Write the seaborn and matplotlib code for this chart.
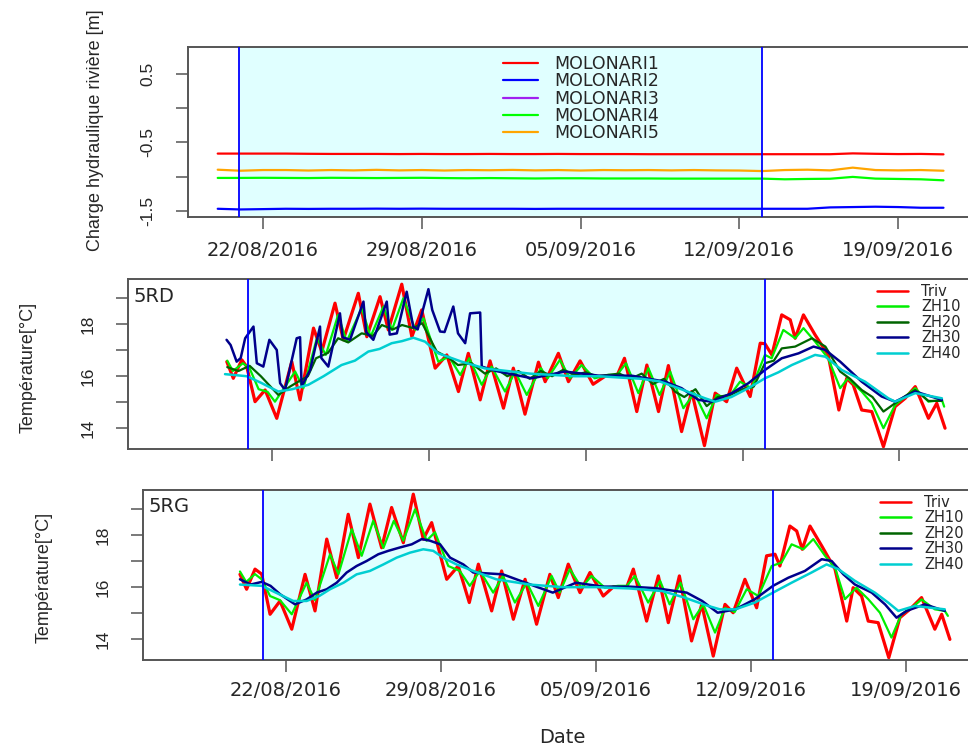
import numpy as np
import pandas as pd
import matplotlib
matplotlib.use("Agg")
import matplotlib.pyplot as plt
import matplotlib.dates as mdates
from matplotlib.lines import Line2D
import seaborn as sns

# ---- donnees (jours depuis le 22/08/2016 00:00) ----
T0 = pd.Timestamp("2016-08-22")

# charge hydraulique riviere, une valeur par jour du 20/08 au 21/09
top_days = list(range(-2, 31))
m1_vals = [-0.665, -0.665, -0.665, -0.665, -0.668, -0.670, -0.670, -0.670, -0.672, -0.670, -0.672,
           -0.672, -0.670, -0.672, -0.672, -0.670, -0.672, -0.672, -0.672, -0.674, -0.674, -0.674,
           -0.674, -0.674, -0.674, -0.674, -0.674, -0.674, -0.662, -0.668, -0.672, -0.670, -0.676]
m2_vals = [-1.470, -1.480, -1.475, -1.470, -1.472, -1.470, -1.470, -1.468, -1.470, -1.468, -1.470,
           -1.470, -1.470, -1.470, -1.472, -1.470, -1.470, -1.470, -1.470, -1.470, -1.470, -1.470,
           -1.470, -1.470, -1.470, -1.470, -1.470, -1.450, -1.445, -1.440, -1.445, -1.455, -1.455]
m3_vals = [np.nan] * 33  # MOLONARI3 : pas de donnees visibles
m4_vals = [-1.020, -1.020, -1.018, -1.020, -1.022, -1.018, -1.020, -1.022, -1.020, -1.018, -1.022,
           -1.025, -1.022, -1.025, -1.028, -1.025, -1.025, -1.028, -1.028, -1.028, -1.030, -1.030,
           -1.030, -1.030, -1.030, -1.040, -1.035, -1.032, -1.005, -1.030, -1.035, -1.040, -1.055]
m5_vals = [-0.900, -0.915, -0.905, -0.905, -0.912, -0.905, -0.910, -0.902, -0.910, -0.905, -0.912,
           -0.905, -0.908, -0.903, -0.910, -0.905, -0.912, -0.905, -0.908, -0.905, -0.910, -0.905,
           -0.910, -0.912, -0.920, -0.905, -0.900, -0.910, -0.870, -0.905, -0.910, -0.905, -0.915]
top_names = ["MOLONARI1", "MOLONARI2", "MOLONARI3", "MOLONARI4", "MOLONARI5"]
top_colors = ["#FF0000", "#0000FF", "#A020F0", "#00FF00", "#FFA500"]

# 5RD
rd_triv_t = [-2.02, -1.73, -1.35, -1.13, -0.76, -0.31, 0.21, 0.88, 1.25, 1.85, 2.22, 2.81, 3.18, 3.85,
             4.23, 4.82, 5.19, 5.79, 6.24, 6.68, 7.28, 7.80, 8.32, 8.76, 9.29, 9.73, 10.33, 10.77,
             11.29, 11.89, 12.19, 12.78, 13.23, 13.75, 14.33, 14.9, 15.4, 15.73, 16.28, 16.73, 17.25,
             17.69, 18.28, 18.73, 19.30, 19.78, 20.29, 20.74, 21.34, 21.79, 22.0, 22.31, 22.75, 23.13,
             23.35, 23.72, 24.24, 24.82, 25.30, 25.65, 25.94, 26.32, 26.77, 27.29, 27.81, 28.26,
             28.71, 29.30, 29.67, 30.04]
rd_triv_v = [16.56, 15.92, 16.63, 16.37, 15.02, 15.47, 14.38, 16.56, 15.09, 17.85, 16.95, 18.81, 17.40,
             19.19, 17.52, 19.06, 17.78, 19.54, 17.52, 18.55, 16.31, 16.82, 15.41, 16.88, 15.09, 16.59,
             14.77, 16.31, 14.54, 16.54, 15.79, 16.88, 15.79, 16.59, 15.69, 16.02, 16.02, 16.69, 14.64,
             16.43, 14.64, 16.41, 13.87, 15.41, 13.33, 15.35, 15.02, 16.31, 15.22, 17.27, 17.25, 16.82,
             18.36, 18.17, 17.46, 18.36, 17.59, 16.82, 14.70, 15.92, 15.67, 14.70, 14.64, 13.29, 14.83,
             15.15, 15.6, 14.38, 14.96, 14.0]
rd_zh10_t = [-2.0, -1.75, -1.3, -1.0, -0.6, -0.2, 0.13, 1.03, 1.4, 2.0, 2.4, 2.95, 3.33, 4.0, 4.4,
             4.97, 5.35, 5.86, 6.4, 6.76, 7.42, 7.9, 8.4, 8.8, 9.36, 9.8, 10.4, 10.85, 11.37, 12.0,
             12.3, 12.85, 13.3, 13.82, 14.4, 15.0, 15.4, 15.8, 16.35, 16.8, 17.3, 17.77, 18.36, 18.85,
             19.4, 19.85, 20.35, 20.89, 21.4, 22.0, 22.3, 22.82, 23.35, 23.72, 24.24, 24.82, 25.36,
             25.7, 26.32, 26.77, 27.29, 27.81, 28.26, 28.71, 29.3, 29.9, 30.0]
rd_zh10_v = [16.6, 16.2, 16.5, 16.3, 15.5, 15.4, 15.02, 16.18, 15.54, 17.46, 16.82, 18.36, 17.33, 18.62,
             17.52, 18.68, 17.78, 19.0, 17.78, 18.23, 16.56, 16.75, 16.05, 16.69, 15.67, 16.37, 15.41,
             16.18, 15.28, 16.31, 15.92, 16.63, 15.92, 16.43, 15.92, 16.05, 16.05, 16.5, 15.35, 16.31,
             15.28, 16.18, 14.77, 15.35, 14.38, 15.28, 15.15, 15.79, 15.54, 16.82, 16.69, 17.78, 17.46,
             17.85, 17.33, 16.69, 15.54, 15.92, 15.41, 14.96, 14.0, 14.89, 15.22, 15.54, 15.02, 15.09,
             14.83]
rd_zh20_t = [-2.0, -1.5, -1.0, -0.5, 0.28, 0.8, 1.17, 1.6, 1.96, 2.5, 2.95, 3.4, 4.0, 4.5, 4.9, 5.4,
             5.8, 6.3, 6.7, 7.35, 7.9, 8.3, 8.9, 9.5, 10.0, 10.5, 11.0, 11.5, 12.0, 12.5, 13.0, 13.5,
             14.0, 14.5, 15.0, 15.5, 16.0, 16.5, 17.0, 17.5, 18.0, 18.4, 18.9, 19.4, 19.9, 20.5, 21.0,
             21.5, 22.0, 22.4, 22.75, 23.35, 24.1, 24.7, 25.36, 25.8, 26.32, 26.8, 27.29, 27.81, 28.2,
             28.71, 29.3, 29.9]
rd_zh20_v = [16.35, 16.2, 16.4, 16.0, 15.28, 15.6, 15.79, 16.0, 16.69, 16.9, 17.46, 17.3, 17.65, 17.55,
             17.97, 17.8, 17.97, 17.85, 18.04, 16.95, 16.7, 16.43, 16.5, 16.1, 16.3, 16.0, 16.2, 15.9,
             16.2, 16.0, 16.25, 16.05, 16.15, 16.0, 16.05, 16.1, 15.9, 16.1, 15.7, 15.9, 15.4, 15.2,
             15.5, 14.85, 15.2, 15.3, 15.5, 15.6, 16.5, 16.6, 17.07, 17.14, 17.46, 17.14, 16.18, 15.9,
             15.47, 15.2, 14.64, 14.96, 15.2, 15.47, 15.05, 15.05]
rd_zh30_t = [-2.03, -1.85, -1.58, -1.4, -1.2, -0.83, -0.68, -0.39, -0.12, 0.21, 0.36, 0.58, 1.10, 1.25,
             1.32, 1.7, 2.14, 2.2, 2.51, 3.03, 3.15, 3.48, 4.08, 4.2, 4.52, 5.12, 5.25, 5.57, 6.01, 6.3,
             6.5, 6.98, 7.15, 7.5, 7.7, 8.09, 8.3, 8.62, 8.84, 9.29, 9.36, 10.0, 11.6, 13.07, 14.6,
             16.06, 17.54, 18.28, 19.03, 19.63, 20.52, 21.26, 22.0, 22.75, 23.5, 24.17, 24.7, 25.36,
             26.32, 27.21, 27.81, 28.71, 29.9]
rd_zh30_v = [17.4, 17.2, 16.56, 16.7, 17.46, 17.91, 16.5, 16.37, 17.4, 17.01, 15.73, 15.47, 17.46, 17.5,
             15.6, 16.24, 17.91, 16.7, 16.37, 18.42, 17.5, 17.4, 18.87, 17.7, 17.4, 18.87, 17.6, 17.65,
             19.25, 17.91, 17.8, 19.35, 18.55, 17.72, 17.7, 18.68, 17.65, 17.27, 18.42, 18.45, 16.37,
             16.2, 15.92, 16.18, 16.02, 16.02, 15.79, 15.54, 15.09, 15.02, 15.35, 15.73, 16.24, 16.69,
             16.88, 17.14, 17.01, 16.56, 15.79, 15.22, 15.02, 15.41, 15.09]
rd_zh40_t = [-2.1, -1.13, -0.5, 0.28, 0.9, 1.62, 2.3, 3.1, 3.7, 4.3, 4.8, 5.34, 5.8, 6.31, 6.83, 7.42,
             8.46, 9.5, 10.5, 11.5, 12.5, 13.5, 14.6, 15.5, 16.5, 17.3, 18.14, 19.33, 19.78, 20.5,
             21.26, 22.0, 22.6, 23.2, 24.24, 24.7, 25.43, 26.47, 27.51, 27.81, 28.71, 29.9]
rd_zh40_v = [16.08, 16.0, 15.75, 15.41, 15.5, 15.67, 16.0, 16.43, 16.6, 16.95, 17.05, 17.27, 17.35,
             17.48, 17.33, 16.88, 16.56, 16.3, 16.2, 16.1, 16.05, 16.0, 16.0, 15.95, 15.9, 15.8, 15.54,
             15.15, 15.02, 15.2, 15.54, 15.92, 16.15, 16.43, 16.82, 16.75, 16.24, 15.79, 15.15, 15.02,
             15.35, 15.15]

# 5RG
rg_triv_t = [-2.08, -1.78, -1.40, -1.1, -0.72, -0.27, 0.26, 0.86, 1.31, 1.84, 2.29, 2.81, 3.27, 3.79,
             4.32, 4.77, 5.30, 5.75, 6.20, 6.58, 7.26, 7.78, 8.28, 8.69, 9.29, 9.74, 10.27, 10.80,
             11.32, 11.92, 12.30, 12.75, 13.28, 13.73, 14.33, 14.8, 15.4, 15.69, 16.29, 16.82, 17.27,
             17.77, 18.32, 18.78, 19.30, 19.83, 20.20, 20.73, 21.26, 21.71, 22.09, 22.31, 22.76, 23.07,
             23.32, 23.67, 24.20, 24.80, 25.33, 25.62, 26.0, 26.30, 26.75, 27.23, 27.73, 28.18, 28.71,
             29.31, 29.62, 29.99]
rg_triv_v = [16.49, 15.92, 16.69, 16.5, 14.96, 15.47, 14.39, 16.49, 15.09, 17.84, 16.36, 18.79, 17.13,
             19.18, 17.51, 19.05, 17.70, 19.56, 17.84, 18.47, 16.30, 16.81, 15.41, 16.88, 15.09, 16.62,
             14.77, 16.30, 14.58, 16.49, 15.60, 16.88, 15.79, 16.56, 15.66, 16.02, 16.02, 16.69, 14.70,
             16.43, 14.64, 16.43, 13.94, 15.34, 13.36, 15.34, 15.02, 16.30, 15.21, 17.20, 17.26, 16.81,
             18.34, 18.15, 17.45, 18.34, 17.58, 16.69, 14.70, 15.98, 15.66, 14.70, 14.64, 13.30, 14.83,
             15.15, 15.60, 14.39, 14.96, 14.0]
rg_zh10_t = [-2.08, -1.8, -1.4, -1.1, -0.72, -0.27, 0.26, 0.93, 1.31, 1.99, 2.37, 2.97, 3.42, 3.94,
             4.4, 4.87, 5.3, 5.83, 6.35, 6.73, 7.33, 7.85, 8.3, 8.76, 9.36, 9.8, 10.34, 10.88, 11.4,
             12.0, 12.36, 12.82, 13.35, 13.8, 14.4, 15.0, 15.4, 15.76, 16.36, 16.9, 17.33, 17.82, 18.4,
             18.85, 19.38, 19.83, 20.27, 20.81, 21.34, 21.94, 22.38, 22.84, 23.37, 23.82, 24.35, 24.8,
             25.25, 25.77, 26.3, 26.83, 27.35, 27.8, 28.25, 28.71, 29.31, 29.76, 29.9]
rg_zh10_v = [16.6, 16.2, 16.5, 16.3, 15.66, 15.5, 14.96, 16.17, 15.5, 17.26, 16.5, 18.22, 17.2, 18.54,
             17.5, 18.54, 17.78, 18.98, 17.78, 18.1, 16.81, 16.62, 16.05, 16.62, 15.79, 16.43, 15.41,
             16.17, 15.28, 16.43, 15.79, 16.69, 15.98, 16.43, 15.98, 16.05, 16.05, 16.43, 15.41, 16.24,
             15.34, 16.17, 14.77, 15.34, 14.26, 15.2, 15.05, 15.92, 15.66, 16.81, 16.94, 17.64, 17.45,
             17.84, 17.2, 16.75, 15.54, 15.98, 15.54, 15.02, 14.07, 14.96, 15.2, 15.53, 15.15, 15.09,
             14.9]
rg_zh20_t = []  # ZH20 non trace pour 5RG
rg_zh20_v = []
rg_zh30_t = [-2.08, -1.6, -1.1, -0.7, -0.27, 0.41, 0.93, 1.39, 1.84, 2.29, 2.74, 3.19, 3.64, 4.17, 4.62,
             5.15, 5.68, 6.13, 6.5, 6.96, 7.41, 8.01, 8.46, 9.8, 11.3, 12.05, 13.1, 14.3, 15.5, 16.7,
             18.1, 18.8, 19.5, 20.3, 21.18, 22.0, 22.69, 23.44, 24.2, 24.65, 25.18, 25.7, 26.46, 27.06,
             27.58, 28.03, 28.86, 29.76]
rg_zh30_v = [16.30, 16.1, 16.2, 16.05, 15.73, 15.34, 15.53, 15.79, 15.92, 16.17, 16.56, 16.81, 17.0,
             17.26, 17.39, 17.52, 17.64, 17.84, 17.78, 17.64, 17.13, 16.87, 16.56, 16.49, 16.02, 15.79,
             16.17, 16.02, 16.02, 15.96, 15.79, 15.47, 15.02, 15.15, 15.54, 16.05, 16.36, 16.62, 17.07,
             17.0, 16.49, 16.1, 15.79, 15.34, 14.83, 15.09, 15.34, 15.09]
rg_zh40_t = [-2.08, -1.1, 0.33, 0.93, 1.5, 1.99, 2.6, 3.19, 3.79, 4.4, 5.0, 5.6, 6.2, 6.65, 7.1, 7.7,
             8.46, 9.5, 11.0, 12.5, 14.0, 15.5, 17.0, 18.0, 19.0, 19.6, 20.3, 21.18, 22.0, 22.84, 23.74,
             24.42, 24.95, 25.7, 26.6, 27.2, 27.66, 28.41, 29.76]
rg_zh40_v = [16.1, 16.05, 15.47, 15.47, 15.66, 15.92, 16.17, 16.49, 16.62, 16.87, 17.13, 17.32, 17.45,
             17.39, 17.13, 16.87, 16.62, 16.3, 16.1, 16.0, 16.0, 15.95, 15.85, 15.6, 15.3, 15.15, 15.15,
             15.41, 15.79, 16.17, 16.56, 16.87, 16.69, 16.24, 15.79, 15.41, 15.09, 15.28, 15.15]

temp_names = ["Triv", "ZH10", "ZH20", "ZH30", "ZH40"]
temp_colors = ["#FF0000", "#00EE00", "#006400", "#00008B", "#00CED1"]
temp_widths = [2.3, 1.6, 1.6, 1.8, 1.8]

# periode mise en evidence (traits bleus)
period_start, period_end = -1.06, 22.0
tick_days = [0, 7, 14, 21, 28]


def to_dates(days):
    return T0 + pd.to_timedelta(np.asarray(days, dtype=float), unit="D")


sns.set_style("ticks")
plt.rcParams["font.family"] = ["DejaVu Sans"]

W, H = 968, 747
fig = plt.figure(figsize=(W / 100, H / 100), dpi=100)


def px_axes(left, top, right, bottom):
    return fig.add_axes([left / W, 1 - bottom / H, (right - left) / W, (bottom - top) / H])


def style_axes(ax, xlim, ylim, yticks, ylabels, show_xlabels, xpad):
    ax.set_xlim(to_dates(xlim[0]), to_dates(xlim[1]))
    ax.set_ylim(*ylim)
    ax.axvspan(to_dates(period_start), to_dates(period_end), color="#E0FFFF", zorder=0, lw=0)
    for d in (period_start, period_end):
        ax.axvline(to_dates(d), color="#0000FF", lw=1.3, zorder=5)
    ax.set_xticks(to_dates(tick_days))
    ax.xaxis.set_major_formatter(mdates.DateFormatter("%d/%m/%Y"))
    if not show_xlabels:
        ax.set_xticklabels([])
    ax.set_yticks(yticks)
    ax.set_yticklabels(ylabels, rotation=90, va="center", family="Liberation Sans", fontsize=12.5)
    ax.tick_params(axis="both", direction="out", length=8.5, width=1.1, color="#555555")
    ax.tick_params(axis="y", pad=15)
    ax.tick_params(axis="x", pad=xpad, labelsize=14)
    for s in ax.spines.values():
        s.set_color("#555555")
        s.set_linewidth(1.4)
    ax.set_xlabel("")


# ---- panneau 1 : charge hydraulique ----
ax1 = px_axes(188, 47, 980, 217)
for vals, col in zip([m1_vals, m2_vals, m3_vals, m4_vals, m5_vals], top_colors):
    sns.lineplot(x=to_dates(top_days), y=vals, ax=ax1, color=col, lw=1.6,
                 estimator=None, sort=False)
style_axes(ax1, (-3.31, 31.61), (-1.59, 0.89), [-1.5, -1.0, -0.5, 0.0, 0.5],
           ["-1.5", "", "-0.5", "", "0.5"], True, 8.5)
ax1.set_ylabel("Charge hydraulique rivière [m]", family="Liberation Sans", fontsize=13)
ax1.yaxis.set_label_coords(-0.106, 0.512)
h1 = [Line2D([], [], color=c, lw=1.6) for c in top_colors]
ax1.legend(h1, top_names, loc="upper left", bbox_to_anchor=(503 / W, 1 - 55 / H),
           bbox_transform=fig.transFigure, frameon=False, fontsize=12.5, borderpad=0,
           borderaxespad=0, handlelength=2.0, handletextpad=0.95, labelspacing=-0.04)

# ---- panneaux 2 et 3 : temperatures ----
panels = [
    ("5RD", (128, 279, 980, 449), (-6.43, 31.6), (13.2, 19.74),
     [(rd_triv_t, rd_triv_v), (rd_zh10_t, rd_zh10_v), (rd_zh20_t, rd_zh20_v),
      (rd_zh30_t, rd_zh30_v), (rd_zh40_t, rd_zh40_v)],
     False, (877, 284), (0.006, 0.865), (-0.107, 0.48)),
    ("5RG", (143, 490, 980, 660), (-6.46, 31.35), (13.21, 19.72),
     [(rg_triv_t, rg_triv_v), (rg_zh10_t, rg_zh10_v), (rg_zh20_t, rg_zh20_v),
      (rg_zh30_t, rg_zh30_v), (rg_zh40_t, rg_zh40_v)],
     True, (880, 495), (0.006, 0.871), (-0.1075, 0.485)),
]

for name, box, xlim, ylim, series, show_x, leg_xy, lab_xy, ylab_xy in panels:
    ax = px_axes(*box)
    for (t, v), col, lw in zip(series, temp_colors, temp_widths):
        if len(t) == 0:
            continue
        sns.lineplot(x=to_dates(t), y=v, ax=ax, color=col, lw=lw, estimator=None, sort=False)
    style_axes(ax, xlim, ylim, [14, 15, 16, 17, 18, 19], ["14", "", "16", "", "18", ""],
               show_x, 6.5)
    ax.set_ylabel("Température[°C]", family="Liberation Sans", fontsize=13)
    ax.yaxis.set_label_coords(*ylab_xy)
    ax.text(lab_xy[0], lab_xy[1], name, transform=ax.transAxes, fontsize=14, va="baseline")
    hh = [Line2D([], [], color=c, lw=1.8) for c in temp_colors]
    ax.legend(hh, temp_names, loc="upper left", bbox_to_anchor=(leg_xy[0] / W, 1 - leg_xy[1] / H),
              bbox_transform=fig.transFigure, frameon=False, fontsize=10.5, borderpad=0,
              borderaxespad=0, handlelength=2.1, handletextpad=0.95, labelspacing=0.03)

fig.text(562 / W, 1 - 743 / H, "Date", ha="center", va="baseline", fontsize=14)

fig.savefig("out.png", dpi=100)
